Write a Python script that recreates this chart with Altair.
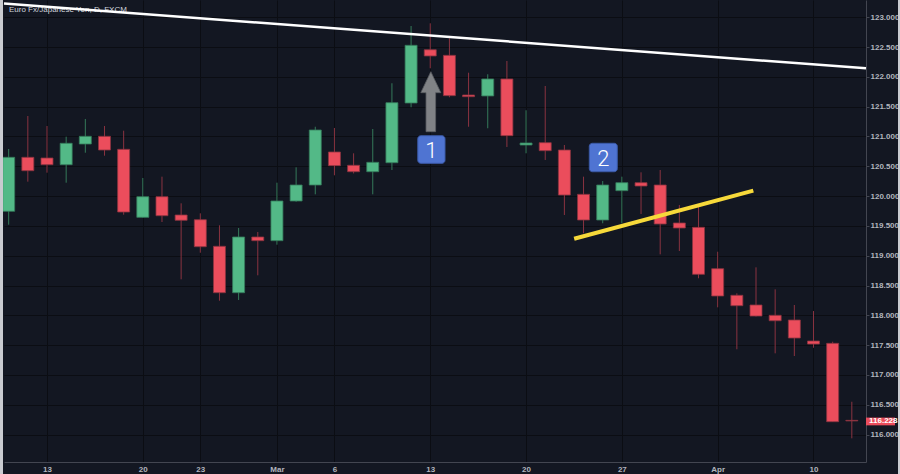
import altair as alt
import pandas as pd

# ---------------- data ----------------
idx = list(range(45))
opens = [119.745, 120.651, 120.639, 120.527, 120.874, 121.003, 120.785, 119.644, 119.990, 119.683,
         119.604, 119.158, 118.379, 119.314, 119.252, 119.918, 120.186, 120.740, 120.517, 120.409,
         120.560, 121.562, 122.456, 122.362, 121.696, 121.680, 121.965, 120.857, 120.896, 120.773,
         120.030, 119.599, 120.091, 120.225, 120.186, 119.549, 119.477, 118.782, 118.336, 118.173,
         118.000, 117.921, 117.569, 117.530, 116.238]
highs = [120.790, 121.344, 121.176, 120.997, 121.294, 121.176, 121.097, 120.304, 120.326, 119.879,
         119.711, 119.510, 119.465, 119.398, 120.225, 120.483, 121.164, 121.143, 120.718, 121.126,
         121.893, 122.854, 122.899, 122.648, 122.070, 122.044, 122.267, 121.440, 121.847, 120.857,
         120.326, 120.253, 120.326, 120.399, 120.438, 119.851, 119.851, 119.067, 118.369, 118.805,
         118.436, 118.173, 118.072, 117.557, 116.550]
lows = [119.520, 120.242, 120.393, 120.225, 120.728, 120.678, 119.688, 119.640, 119.565, 118.604,
        119.050, 118.245, 118.257, 118.671, 119.185, 119.905, 120.030, 120.349, 120.380, 120.030,
        120.438, 121.490, 122.144, 121.658, 121.164, 121.138, 120.824, 120.718, 120.606, 119.683,
        119.376, 119.544, 119.544, 119.700, 119.023, 119.079, 118.621, 118.134, 117.430, 117.980,
        117.362, 117.317, 117.456, 116.215, 115.936]
closes = [120.651, 120.426, 120.527, 120.886, 121.003, 120.773, 119.733, 119.990, 119.671, 119.594,
          119.151, 118.379, 119.314, 119.252, 119.918, 120.186, 121.109, 120.510, 120.409, 120.567,
          121.567, 122.530, 122.351, 121.685, 121.668, 121.965, 121.013, 120.891, 120.762, 120.018,
          119.599, 120.186, 120.225, 120.169, 119.532, 119.465, 118.688, 118.324, 118.161, 117.988,
          117.909, 117.619, 117.518, 116.215, 116.228]

x_tick_pos = [2, 7, 10, 14, 17, 22, 27, 32, 37, 42]
x_tick_labels = ["13", "20", "23", "Mar", "6", "13", "20", "27", "Apr", "10"]
y_ticks = [116.0, 116.5, 117.0, 117.5, 118.0, 118.5, 119.0, 119.5,
           120.0, 120.5, 121.0, 121.5, 122.0, 122.5, 123.0]

white_line_x = [-0.244, 44.74]
white_line_y = [123.230, 122.144]
yellow_line_x = [29.51, 38.86]
yellow_line_y = [119.285, 120.091]

box_x1 = [21.35, 30.30]
box_x2 = [22.77, 31.76]
box_y1 = [121.013, 120.886]
box_y2 = [120.550, 120.409]
box_text = ["1", "2"]

arrow_x = [22.03]
arrow_y = [121.584]

last_price = 116.228
last_box_y1 = 116.284
last_box_y2 = 116.154

title_text = "Euro Fx/Japanese Yen, D, FXCM"

# ---------------- style ----------------
BG = "#131722"
GRID = "#0b0d13"
AXIS = "#434651"
LABEL = "#b2b5be"
GREEN = "#53b987"
RED = "#eb4d5c"
GREEN_W = "#357a5a"
RED_W = "#8a3340"
FONT = "Liberation Sans"

W, H = 862, 462
XDOM = [-0.244, 44.74]
YDOM = [115.539, 123.290]

df = pd.DataFrame({"i": idx, "open": opens, "high": highs, "low": lows, "close": closes})
df["dir"] = ["up" if c >= o else "down" for o, c in zip(opens, closes)]

xs = alt.Scale(domain=XDOM, nice=False, zero=False, padding=0)
ys = alt.Scale(domain=YDOM, nice=False, zero=False, padding=0)

label_expr = "[" + ",".join("'%s'" % s for s in x_tick_labels) + "][indexof([" + \
    ",".join(str(v) for v in x_tick_pos) + "], datum.value)]"

x_axis = alt.Axis(values=x_tick_pos, labelExpr=label_expr, ticks=False, labelPadding=3,
                  labelFontSize=8, labelColor=LABEL, labelFont=FONT, labelFontWeight="bold",
                  domainColor=AXIS, gridColor=GRID, gridWidth=1, title=None, labelOverlap=False)
y_axis = alt.Axis(orient="right", values=y_ticks, format=".3f", tickSize=3, tickColor=AXIS,
                  labelPadding=1, labelFontSize=8, labelColor=LABEL, labelFont=FONT,
                  labelFontWeight="bold", domainColor=AXIS, gridColor=GRID, gridWidth=1,
                  title=None, labelOverlap=False)


def X(f):
    return alt.X(f, scale=xs, axis=x_axis)


def Y(f):
    return alt.Y(f, scale=ys, axis=y_axis)


dir_col = alt.Scale(domain=["up", "down"], range=[GREEN_W, RED_W])
dir_fill = alt.Scale(domain=["up", "down"], range=[GREEN, RED])

base = alt.Chart(df)

wicks = base.mark_rule(strokeWidth=1).encode(
    x=X("i:Q"), y=Y("low:Q"), y2="high:Q",
    color=alt.Color("dir:N", scale=dir_col, legend=None),
)

bodies = base.mark_bar(size=12, strokeWidth=0.8).encode(
    x=X("i:Q"), y=Y("open:Q"), y2="close:Q",
    fill=alt.Fill("dir:N", scale=dir_fill, legend=None),
    stroke=alt.Stroke("dir:N", scale=dir_col, legend=None),
)

white_df = pd.DataFrame({"x": white_line_x, "y": white_line_y})
white = alt.Chart(white_df).mark_line(color="#ffffff", strokeWidth=2.5).encode(
    x=X("x:Q"), y=Y("y:Q"))

yellow_df = pd.DataFrame({"x": yellow_line_x, "y": yellow_line_y})
yellow = alt.Chart(yellow_df).mark_line(color="#f7d93a", strokeWidth=4).encode(
    x=X("x:Q"), y=Y("y:Q"))

box_df = pd.DataFrame({"x1": box_x1, "x2": box_x2, "y1": box_y1, "y2": box_y2, "t": box_text})
box_df["xc"] = [(a + b) / 2 for a, b in zip(box_x1, box_x2)]
box_df["yc"] = [(a + b) / 2 for a, b in zip(box_y1, box_y2)]
boxes = alt.Chart(box_df).mark_rect(color="#4f74d2", stroke="#3b5aa8", strokeWidth=1,
                                    cornerRadius=3).encode(
    x=X("x1:Q"), x2="x2:Q", y=Y("y1:Q"), y2="y2:Q")
box_labels = alt.Chart(box_df).mark_text(color="#ffffff", fontSize=22, font="Roboto",
                                         fontWeight=300, baseline="middle", align="center",
                                         dy=1).encode(
    x=X("xc:Q"), y=Y("yc:Q"), text="t:N")

arrow_path = "M0,-3 L1,-0.9 L0.48,-0.9 L0.48,3 L-0.48,3 L-0.48,-0.9 L-1,-0.9 Z"
arrow_df = pd.DataFrame({"x": arrow_x, "y": arrow_y})
arrow = alt.Chart(arrow_df).mark_point(shape=arrow_path, size=400, filled=True, fill="#808286",
                                       stroke="#5c5e63", strokeWidth=0.8, opacity=1).encode(
    x=X("x:Q"), y=Y("y:Q"))

lp_df = pd.DataFrame({"p": [last_price], "y1": [last_box_y1], "y2": [last_box_y2],
                      "t": ["%.3f" % last_price]})
lp_box = alt.Chart(lp_df).mark_rect(color=RED).encode(
    x=alt.value(W), x2=alt.value(W + 29), y=Y("y1:Q"), y2="y2:Q")
lp_text = alt.Chart(lp_df).mark_text(color="#ffffff", fontSize=8, font=FONT, fontWeight="bold",
                                     align="left", baseline="middle").encode(
    x=alt.value(W + 3), y=Y("p:Q"), text="t:N")

title_df = pd.DataFrame({"t": [title_text]})
title = alt.Chart(title_df).mark_text(color="#d1d4dc", fontSize=8, font=FONT, align="left",
                                      baseline="middle").encode(
    x=alt.value(5), y=alt.value(10), text="t:N")

edge_df = pd.DataFrame({"a": [0]})
left_edge = alt.Chart(edge_df).mark_rule(color="#c9cbd0", strokeWidth=3).encode(
    x=alt.value(-2.5), y=alt.value(0), y2=alt.value(H + 12))
right_edge = alt.Chart(edge_df).mark_rule(color="#c9cbd0", strokeWidth=2).encode(
    x=alt.value(W + 33), y=alt.value(0), y2=alt.value(H + 12))

chart = alt.layer(
    wicks, bodies, title, white, yellow, arrow, boxes, box_labels, lp_box, lp_text,
    left_edge, right_edge
).properties(
    width=W, height=H,
    autosize=alt.AutoSizeParams(type="none"),
    padding={"left": 4, "top": 0, "right": 34, "bottom": 12},
    background=BG,
).configure_view(strokeWidth=0)

chart.save("out.html", embed_options={"renderer": "svg", "actions": False})
